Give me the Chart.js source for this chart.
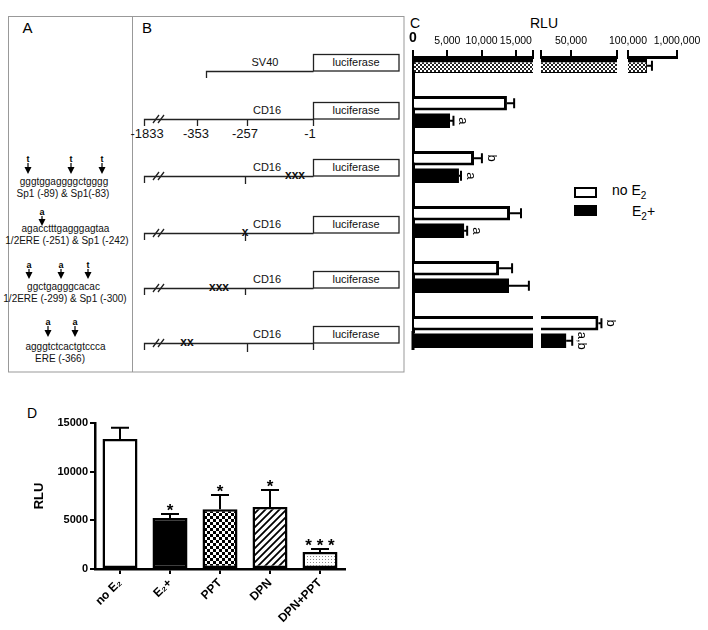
<!DOCTYPE html>
<html>
<head>
<meta charset="utf-8">
<script src="https://cdn.jsdelivr.net/npm/chart.js@4.4.0/dist/chart.umd.min.js"></script>
<style>
  body { margin: 0; background: #fff; }
  #page { position: relative; width: 708px; height: 630px; overflow: hidden; font-family: "Liberation Sans", Arial, sans-serif; }
  #page svg, #page canvas { position: absolute; }
</style>
</head>
<body>
<div id="page">
<svg width="708" height="630" style="left:0;top:0" font-family="Liberation Sans, Arial, sans-serif">
  <!-- frame round A and B -->
  <rect x="8.5" y="16.5" width="395.5" height="355.5" fill="none" stroke="#999" stroke-width="1"/>
  <line x1="132.5" y1="16.5" x2="132.5" y2="372" stroke="#999" stroke-width="1"/>

  <text x="27.5" y="33" font-size="15" text-anchor="middle">A</text>
  <text x="147" y="33" font-size="15" text-anchor="middle">B</text>
  <text x="415" y="28" font-size="14" text-anchor="middle">C</text>
  <text x="544" y="28" font-size="14" text-anchor="middle">RLU</text>
  <text x="32" y="418" font-size="14" text-anchor="middle">D</text>

  <!-- panel A: mutated sites -->
  <g font-size="9" font-weight="bold" text-anchor="middle" fill="#000">
    <text x="28" y="162">t</text><text x="71" y="162">t</text><text x="102" y="162">t</text>
    <text x="42" y="215">a</text>
    <text x="29" y="268">a</text><text x="61" y="268">a</text><text x="88" y="268">t</text>
    <text x="48" y="325">a</text><text x="75" y="325">a</text>
  </g>
  <g fill="#000" stroke="#000" stroke-width="1.2">
    <path d="M28 163V167 M71 163V167 M102 163V167 M42 216V219 M29 269V272 M61 269V272 M88 269V272 M48 326V330 M75 326V330"/>
  </g>
  <g fill="#000">
    <path d="M24.5 167H31.5L28 174Z M67.5 167H74.5L71 174Z M98.5 167H105.5L102 174Z"/>
    <path d="M38.5 219H45.5L42 226Z"/>
    <path d="M25.5 272H32.5L29 279Z M57.5 272H64.5L61 279Z M84.5 272H91.5L88 279Z"/>
    <path d="M44.5 330H51.5L48 337Z M71.5 330H78.5L75 337Z"/>
  </g>
  <g font-size="10" text-anchor="middle" fill="#111">
    <text x="64" y="185">gggtggaggggctgggg</text>
    <text x="63" y="197">Sp1 (-89) &amp; Sp1(-83)</text>
    <text x="65.5" y="232">agacctttgagggagtaa</text>
    <text x="67" y="244">1/2ERE (-251) &amp; Sp1 (-242)</text>
    <text x="63.5" y="290">ggctgagggcacac</text>
    <text x="65" y="302">1/2ERE (-299) &amp; Sp1 (-300)</text>
    <text x="65.5" y="350">agggtctcactgtccca</text>
    <text x="60" y="362">ERE (-366)</text>
  </g>

  <!-- panel B: reporter constructs -->
  <g stroke="#222" stroke-width="1.3" fill="none">
    <rect x="313.5" y="54.5" width="85.5" height="16.5"/>
    <path d="M206.5 78V71.5H313.5"/>

    <rect x="313.5" y="102.5" width="85.5" height="16.5"/>
    <path d="M144.5 126V119.5H313.5V126 M197.5 119.5V126 M247.5 119.5V126"/>
    <path d="M153 123L159 115 M158 123L164 115"/>

    <rect x="313.5" y="159.5" width="85.5" height="16.5"/>
    <path d="M144.5 183V176.5H313.5 M245.5 176.5V184"/>
    <path d="M153 180L159 172 M158 180L164 172"/>

    <rect x="313.5" y="216.5" width="85.5" height="16.5"/>
    <path d="M144.5 240V233.5H313.5 M245.5 233.5V241"/>
    <path d="M153 237L159 229 M158 237L164 229"/>

    <rect x="313.5" y="271.5" width="85.5" height="16.5"/>
    <path d="M144.5 295V288.5H313.5 M245.5 288.5V295"/>
    <path d="M153 292L159 284 M158 292L164 284"/>

    <rect x="313.5" y="326.5" width="85.5" height="16.5"/>
    <path d="M144.5 350V343.5H313.5V350 M247.5 343.5V352"/>
    <path d="M153 347L159 339 M158 347L164 339"/>
  </g>
  <g font-size="11" text-anchor="middle" fill="#111">
    <text x="356" y="66">luciferase</text>
    <text x="356" y="114">luciferase</text>
    <text x="356" y="171">luciferase</text>
    <text x="356" y="228">luciferase</text>
    <text x="356" y="283">luciferase</text>
    <text x="356" y="338">luciferase</text>
    <text x="265" y="66">SV40</text>
    <text x="267" y="114">CD16</text>
    <text x="267" y="171">CD16</text>
    <text x="267" y="228">CD16</text>
    <text x="267" y="283">CD16</text>
    <text x="267" y="338">CD16</text>
  </g>
  <g font-size="13" text-anchor="middle" fill="#111">
    <text x="147" y="138">-1833</text>
    <text x="196" y="138">-353</text>
    <text x="245" y="138">-257</text>
    <text x="310" y="138">-1</text>
  </g>
  <g font-size="12" font-weight="bold" text-anchor="middle" fill="#111">
    <text x="295" y="179">xxx</text>
    <text x="245" y="236">x</text>
    <text x="219" y="291">xxx</text>
    <text x="187" y="346">xx</text>
  </g>

  <!-- legend of panel C -->
  <rect x="575" y="188" width="21" height="9" fill="#fff" stroke="#000" stroke-width="2"/>
  <rect x="574" y="205" width="23" height="11" fill="#000"/>
  <text x="612" y="195" font-size="14">no E<tspan font-size="10" dy="4">2</tspan></text>
  <text x="632" y="216" font-size="14">E<tspan font-size="10" dy="4">2</tspan><tspan dy="-4">+</tspan></text>
</svg>

<canvas id="seg1" width="140" height="372" style="left:400px;top:0"></canvas>
<canvas id="seg2" width="90" height="372" style="left:535px;top:0"></canvas>
<canvas id="seg3" width="113" height="372" style="left:595px;top:0"></canvas>
<canvas id="chartD" width="360" height="240" style="left:0;top:390px"></canvas>
</div>

<script>
// panel C: luciferase activity of each construct (RLU)
const constructs = ['SV40', 'CD16', 'CD16 Sp1(-89/-83)', 'CD16 ERE/Sp1(-251/-242)', 'CD16 ERE/Sp1(-299/-300)', 'CD16 ERE(-366)'];
const noE2Values = [null, 13700, 8900, 14150, 12550, 79800];
const noE2Errors = [null, 14750, 10050, 15750, 14450, 83100];
const e2Values = [null, 5400, 6700, 7450, 14000, 44800];
const e2Errors = [null, 5900, 7000, 7900, 16900, 51400];
const sv40Value = 450000;
const sv40Error = 540000;
const noE2Marks = ['', '', 'b', '', '', 'b'];
const e2Marks = ['', 'a', 'a', 'a', '', 'a,b'];

// broken axis of panel C, three pieces
const seg1Ticks = [0, 5000, 10000, 15000, 17500];
const seg1Labels = ['0', '5,000', '10,000', '15,000', ''];
const seg2Ticks = [17500, 50000, 100000];
const seg2Labels = ['', '50,000', ''];
const seg3Ticks = [100000, 1000000];
const seg3Labels = ['100,000', '1,000,000'];

// panel D
const treatments = ['no E₂', 'E₂+', 'PPT', 'DPN', 'DPN+PPT'];
const treatmentValues = [13350, 5250, 6150, 6380, 1750];
const treatmentErrors = [14500, 5650, 7600, 8120, 2050];
const treatmentStars = ['', '*', '*', '*', '* * *'];
const rluTicks = [0, 5000, 10000, 15000];

const FONT = '"Liberation Sans", Arial, sans-serif';

// the SV40 control sits in the lower slot of the first row
const lowerValues = e2Values.map((v, i) => i === 0 ? sv40Value : v);
const lowerErrors = e2Errors.map((v, i) => i === 0 ? sv40Error : v);

function tile(size, draw) {
  const c = document.createElement('canvas');
  c.width = size; c.height = size;
  const t = c.getContext('2d');
  t.fillStyle = '#fff';
  t.fillRect(0, 0, size, size);
  draw(t);
  return c;
}
const fineChecker = tile(4, t => { t.fillStyle = '#222'; t.fillRect(0, 0, 2, 2); t.fillRect(2, 2, 2, 2); });
const boldChecker = tile(6, t => { t.fillStyle = '#000'; t.fillRect(0, 0, 3, 3); t.fillRect(3, 3, 3, 3); });
const diagonal = tile(7, t => {
  t.strokeStyle = '#000'; t.lineWidth = 1.8;
  t.beginPath();
  t.moveTo(-1, 8); t.lineTo(8, -1);
  t.moveTo(-2, 2); t.lineTo(2, -2);
  t.moveTo(5, 9); t.lineTo(9, 5);
  t.stroke();
});
const dots = tile(3, t => { t.fillStyle = '#888'; t.fillRect(1, 1, 1, 1); });

// error bars and letters for panel C
const errorBarsC = {
  id: 'errorBarsC',
  afterDatasetsDraw(chart) {
    const ctx = chart.ctx;
    const x = chart.scales.x;
    const sets = [
      { vals: noE2Values, errs: noE2Errors, marks: noE2Marks },
      { vals: lowerValues, errs: lowerErrors, marks: e2Marks }
    ];
    sets.forEach((s, di) => {
      chart.getDatasetMeta(di).data.forEach((bar, i) => {
        const v = s.vals[i];
        if (v == null || v < x.min || v > x.max) return;
        const x0 = x.getPixelForValue(v);
        const x1 = x.getPixelForValue(s.errs[i]);
        ctx.save();
        ctx.strokeStyle = '#000';
        ctx.lineWidth = 2;
        ctx.beginPath();
        ctx.moveTo(x0, bar.y); ctx.lineTo(x1, bar.y);
        ctx.moveTo(x1, bar.y - 5); ctx.lineTo(x1, bar.y + 5);
        ctx.stroke();
        if (s.marks[i]) {
          ctx.translate(x1 + 3, bar.y);
          ctx.rotate(Math.PI / 2);
          ctx.font = '13px ' + FONT;
          ctx.fillStyle = '#000';
          ctx.textAlign = 'center';
          ctx.textBaseline = 'bottom';
          ctx.fillText(s.marks[i], 0, 0);
        }
        ctx.restore();
      });
    });
    // left axis runs on below the last row
    if (chart.options.scales.y.display) {
      ctx.save();
      ctx.strokeStyle = '#000';
      ctx.lineWidth = 3;
      ctx.beginPath();
      ctx.moveTo(chart.chartArea.left, chart.chartArea.bottom - 1);
      ctx.lineTo(chart.chartArea.left, chart.chartArea.bottom + 18);
      ctx.stroke();
      ctx.restore();
    }
  }
};

function segment(id, ticks, labels, padding, showY) {
  const ctx = document.getElementById(id).getContext('2d');
  const svPattern = ctx.createPattern(fineChecker, 'repeat');
  const clip = { left: 0, right: 0, top: false, bottom: false };
  return new Chart(ctx, {
    type: 'bar',
    data: {
      labels: constructs,
      datasets: [
        { label: 'no E2', data: noE2Values, backgroundColor: '#fff', borderColor: '#000', borderWidth: 3, clip },
        {
          label: 'E2+', data: lowerValues,
          backgroundColor: lowerValues.map((v, i) => i === 0 ? svPattern : '#000'),
          borderColor: '#000',
          borderWidth: lowerValues.map((v, i) => i === 0 ? { top: 4, right: 1, bottom: 1, left: 0 } : 0),
          clip
        }
      ]
    },
    options: {
      indexAxis: 'y',
      responsive: false,
      animation: false,
      events: [],
      layout: { padding },
      datasets: { bar: { categoryPercentage: 0.64, barPercentage: 0.83 } },
      plugins: { legend: { display: false }, tooltip: { enabled: false } },
      scales: {
        x: {
          position: 'top',
          min: ticks[0],
          max: ticks[ticks.length - 1],
          afterBuildTicks: s => { s.ticks = ticks.map(v => ({ value: v })); },
          afterFit: s => { s.height = 57; },
          ticks: {
            autoSkip: false, maxRotation: 0, minRotation: 0, padding: 3, color: '#000',
            callback: (v, i) => labels[i],
            font: c => (c.tick && c.tick.value === 0)
              ? { family: FONT, size: 14, weight: 'bold' }
              : { family: FONT, size: 10.5 }
          },
          grid: { drawOnChartArea: false, drawTicks: true, tickLength: 7, color: '#000', lineWidth: 2 },
          border: { display: true, color: '#000', width: 3 }
        },
        y: {
          display: showY,
          offset: false,
          afterFit: s => { s.width = 0; },
          grid: { display: false },
          ticks: { display: false },
          border: { display: true, color: '#000', width: 3 }
        }
      }
    },
    plugins: [errorBarsC]
  });
}

segment('seg1', seg1Ticks, seg1Labels, { left: 13, right: 7, top: 0, bottom: 40 }, true);
segment('seg2', seg2Ticks, seg2Labels, { left: 6, right: 8, top: 0, bottom: 40 }, false);
segment('seg3', seg3Ticks, seg3Labels, { left: 33, right: 31, top: 0, bottom: 40 }, false);

// panel D
const errorBarsD = {
  id: 'errorBarsD',
  afterDatasetsDraw(chart) {
    const ctx = chart.ctx;
    const y = chart.scales.y;
    chart.getDatasetMeta(0).data.forEach((bar, i) => {
      const top = y.getPixelForValue(treatmentErrors[i]);
      ctx.save();
      ctx.strokeStyle = '#000';
      ctx.lineWidth = 2;
      ctx.beginPath();
      ctx.moveTo(bar.x, bar.y); ctx.lineTo(bar.x, top);
      ctx.moveTo(bar.x - 9, top); ctx.lineTo(bar.x + 9, top);
      ctx.stroke();
      if (treatmentStars[i]) {
        ctx.font = 'bold 17px ' + FONT;
        ctx.fillStyle = '#000';
        ctx.textAlign = 'center';
        ctx.textBaseline = 'alphabetic';
        ctx.fillText(treatmentStars[i], bar.x, top + 2);
      }
      ctx.restore();
    });
  }
};

const dctx = document.getElementById('chartD').getContext('2d');
new Chart(dctx, {
  type: 'bar',
  data: {
    labels: treatments,
    datasets: [{
      label: 'RLU',
      data: treatmentValues,
      backgroundColor: ['#fff', '#000', dctx.createPattern(boldChecker, 'repeat'),
        dctx.createPattern(diagonal, 'repeat'), dctx.createPattern(dots, 'repeat')],
      borderColor: '#000',
      borderWidth: 2.5,
      borderSkipped: false,
      categoryPercentage: 1,
      barPercentage: 0.7
    }]
  },
  options: {
    responsive: false,
    animation: false,
    events: [],
    layout: { padding: { left: 0, right: 15, top: 33, bottom: 0 } },
    plugins: { legend: { display: false }, tooltip: { enabled: false } },
    scales: {
      x: {
        afterFit: s => { s.height = 61; },
        grid: { drawOnChartArea: false, drawTicks: true, tickLength: 5, color: '#000', lineWidth: 2, offset: false },
        border: { display: true, color: '#000', width: 2.5 },
        ticks: { color: '#000', font: { family: FONT, size: 12, weight: 'bold' }, minRotation: 45, maxRotation: 45, padding: 2 }
      },
      y: {
        min: rluTicks[0],
        max: rluTicks[rluTicks.length - 1],
        afterBuildTicks: s => { s.ticks = rluTicks.map(v => ({ value: v })); },
        afterFit: s => { s.width = 95; },
        grid: { drawOnChartArea: false, drawTicks: true, tickLength: 5, color: '#000', lineWidth: 2 },
        border: { display: true, color: '#000', width: 2.5 },
        ticks: { color: '#000', font: { family: FONT, size: 11, weight: 'bold' }, padding: 2, callback: v => String(v) },
        title: { display: true, text: 'RLU', color: '#000', font: { family: FONT, size: 13, weight: 'bold' }, padding: { top: 32, bottom: 0 } }
      }
    }
  },
  plugins: [errorBarsD]
});
</script>
</body>
</html>
